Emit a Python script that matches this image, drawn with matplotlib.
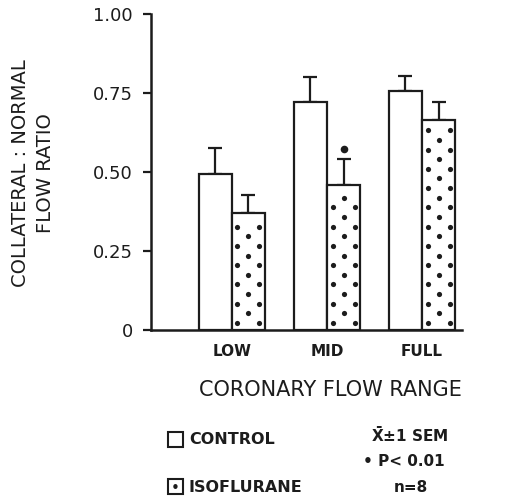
import matplotlib.pyplot as plt
from matplotlib.patches import Rectangle
import numpy as np

# data
ranges = ["LOW", "MID", "FULL"]
control = [0.495, 0.72, 0.755]
control_sem = [0.08, 0.08, 0.05]
isoflurane = [0.37, 0.46, 0.665]
isoflurane_sem = [0.057, 0.08, 0.055]
significant = [False, True, False]  # P < 0.01 vs control

ink = "#1c1c1c"
plt.rcParams['font.family'] = ['DejaVu Sans']

fig = plt.figure(figsize=(5.06, 5.0), dpi=100)
ax = fig.add_axes([151/506, 1-330/500, (462-151)/506, (330-14)/500])

x = np.arange(len(ranges))
w = 0.35

ax.bar(x - w, control, w, align='edge', color='white', edgecolor=ink, linewidth=1.6, zorder=2)
ax.bar(x, isoflurane, w, align='edge', color='white', edgecolor=ink, linewidth=1.6, zorder=2)

# dotted fill of the isoflurane bars
row_step = 0.0305
for xi, h in zip(x, isoflurane):
    rows = np.arange(0.022, h - 0.015, row_step)
    for j, yy in enumerate(rows):
        if j % 2 == 0:
            cols = [xi + 0.17*w, xi + 0.83*w]
        else:
            cols = [xi + 0.5*w]
        ax.scatter(cols, [yy]*len(cols), s=14, color=ink, zorder=3, linewidths=0)

# upper error bars only
ax.errorbar(x - w/2, control, yerr=[np.zeros(3), control_sem], fmt='none',
            ecolor=ink, elinewidth=1.6, capsize=4.7, capthick=1.6, zorder=1)
ax.errorbar(x + w/2, isoflurane, yerr=[np.zeros(3), isoflurane_sem], fmt='none',
            ecolor=ink, elinewidth=1.6, capsize=4.7, capthick=1.6, zorder=1)

for xi, h, e, s in zip(x, isoflurane, isoflurane_sem, significant):
    if s:
        ax.scatter([xi + w/2], [h + e + 0.033], s=30, color=ink, zorder=3, linewidths=0)

ax.set_xlim(-0.85, 2.42)
ax.set_ylim(0, 1.0)
ax.set_yticks([0, 0.25, 0.5, 0.75, 1.0])
ax.set_yticklabels(["0", "0.25", "0.50", "0.75", "1.00"], fontsize=13, color=ink)
ax.set_xticks(x)
ax.set_xticklabels(ranges, fontsize=11, fontweight='bold', color=ink)
ax.tick_params(axis='x', length=0, pad=10)
ax.tick_params(axis='y', length=6, width=1.6, color=ink, pad=7)
for side in ['top', 'right']:
    ax.spines[side].set_visible(False)
for side in ['left', 'bottom']:
    ax.spines[side].set_linewidth(1.8)
    ax.spines[side].set_color(ink)

fig.text(33/506, 1-173/500, "COLLATERAL : NORMAL\nFLOW RATIO", rotation=90,
         ha='center', va='center', multialignment='center', fontsize=14,
         linespacing=1.4, color=ink)
fig.text(330/506, 1-390/500, "CORONARY FLOW RANGE", ha='center', va='center',
         fontsize=15, color=ink)

# legend
fig.patches.append(Rectangle((168/506, 1-447/500), 15/506, 15/500, transform=fig.transFigure,
                             facecolor='white', edgecolor=ink, linewidth=1.5))
fig.patches.append(Rectangle((168/506, 1-494/500), 15/506, 15/500, transform=fig.transFigure,
                             facecolor='white', edgecolor=ink, linewidth=1.5))
fig.text(175.5/506, 1-488.5/500, "\u2022", ha='center', va='center', fontsize=11, color=ink)
fig.text(189/506, 1-439/500, "CONTROL", ha='left', va='center', fontsize=11.5,
         fontweight='bold', color=ink)
fig.text(188/506, 1-487/500, "ISOFLURANE", ha='left', va='center', fontsize=11.5,
         fontweight='bold', color=ink)
fig.text(410/506, 1-435/500, r"$\mathbf{\bar{X}}$" + "\u00b11 SEM", ha='center', va='center',
         fontsize=11, fontweight='bold', color=ink)
fig.text(404/506, 1-461/500, "\u2022 P< 0.01", ha='center', va='center', fontsize=11,
         fontweight='bold', color=ink)
fig.text(411/506, 1-488/500, "n=8", ha='center', va='center', fontsize=11,
         fontweight='bold', color=ink)

fig.savefig("out.png", dpi=100)
